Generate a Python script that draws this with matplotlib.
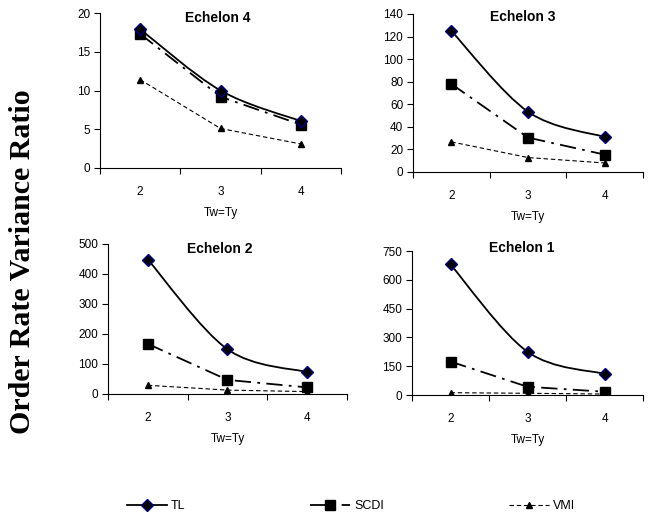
import numpy as np
import matplotlib.pyplot as plt
from matplotlib.path import Path
from matplotlib.patches import PathPatch
from matplotlib.lines import Line2D

# x categories (Tw = Ty)
tw_ty = [2, 3, 4]

# Order rate variance ratio per echelon
ech4_tl = [17.9, 10.0, 6.05]
ech4_scdi = [17.3, 9.2, 5.6]
ech4_vmi = [11.4, 5.1, 3.1]

ech3_tl = [125.0, 53.4, 31.0]
ech3_scdi = [78.0, 30.5, 15.4]
ech3_vmi = [26.7, 12.8, 8.0]

ech2_tl = [448.0, 149.0, 73.0]
ech2_scdi = [167.0, 47.0, 22.0]
ech2_vmi = [29.0, 13.0, 8.0]

ech1_tl = [680.0, 225.0, 110.0]
ech1_scdi = [174.0, 43.0, 17.0]
ech1_vmi = [12.0, 9.0, 5.0]

W, H = 648, 523
plt.rcParams['font.family'] = ['Liberation Sans', 'DejaVu Sans']
fig = plt.figure(figsize=(W / 100, H / 100), dpi=100)


def px_box(left, right, top, bottom):
    return [left / W, 1 - bottom / H, (right - left) / W, (bottom - top) / H]


def smooth_path(x, y):
    # Excel-like smoothed line: cubic Bezier segments through the points
    pts = np.column_stack([x, y]).astype(float)
    n = len(pts)
    verts = [pts[0]]
    codes = [Path.MOVETO]
    for i in range(n - 1):
        p0 = pts[max(i - 1, 0)]
        p1 = pts[i]
        p2 = pts[i + 1]
        p3 = pts[min(i + 2, n - 1)]
        verts += [p1 + (p2 - p0) / 6, p2 - (p3 - p1) / 6, p2]
        codes += [Path.CURVE4] * 3
    return Path(verts, codes)


tl_style = dict(color='black', lw=1.3, ls='-')
scdi_style = dict(color='black', lw=1.3, ls=(0, (9, 3.5, 1.5, 3.5)))
vmi_style = dict(color='black', lw=0.8, ls=(0, (4, 2.5)))
tl_marker = dict(marker='D', ms=6, mfc='black', mec='#000080', mew=1.0)
scdi_marker = dict(marker='s', ms=6.5, mfc='black', mec='black')
vmi_marker = dict(marker='^', ms=4.5, mfc='black', mec='black')

# title, data, y ticks, axes box (px), title position (px)
panels = [
    ('Echelon 4', ech4_tl, ech4_scdi, ech4_vmi, np.arange(0, 21, 5), px_box(100, 341, 13, 168), (218, 18)),
    ('Echelon 3', ech3_tl, ech3_scdi, ech3_vmi, np.arange(0, 141, 20), px_box(413, 643, 14, 172), (523, 17)),
    ('Echelon 2', ech2_tl, ech2_scdi, ech2_vmi, np.arange(0, 501, 100), px_box(108, 347, 244, 394), (220, 249)),
    ('Echelon 1', ech1_tl, ech1_scdi, ech1_vmi, np.arange(0, 751, 150), px_box(412, 643, 251, 395), (522, 248)),
]

for title, tl, scdi, vmi, yticks, box, tpos in panels:
    ax = fig.add_axes(box)
    ax.add_patch(PathPatch(smooth_path(tw_ty, tl), fill=False, **tl_style))
    ax.plot(tw_ty, scdi, **scdi_style)
    ax.plot(tw_ty, vmi, **vmi_style)
    ax.plot(tw_ty, vmi, ls='none', **vmi_marker)
    ax.plot(tw_ty, scdi, ls='none', **scdi_marker)
    ax.plot(tw_ty, tl, ls='none', **tl_marker)

    ax.set_xlim(1.5, 4.5)
    ax.set_ylim(yticks[0], yticks[-1])
    ax.set_yticks(yticks)
    ax.set_xticks(tw_ty)
    ax.set_xticks([1.5, 2.5, 3.5, 4.5], minor=True)
    ax.tick_params(axis='x', which='major', length=0, pad=13, labelsize=8.5)
    ax.tick_params(axis='x', which='minor', length=4, width=0.8, direction='out')
    ax.tick_params(axis='y', length=4, width=0.8, direction='out', labelsize=8.5, pad=3)
    for s in ['top', 'right']:
        ax.spines[s].set_visible(False)
    for s in ['left', 'bottom']:
        ax.spines[s].set_linewidth(0.8)
    ax.patch.set_alpha(0)

    fig.text(tpos[0] / W, 1 - tpos[1] / H, title, ha='center', va='center',
             fontsize=10, fontweight='bold')
    cx = box[0] + box[2] / 2
    fig.text(cx, box[1] - 45 / H, 'Tw=Ty', ha='center', va='center', fontsize=8.5)

fig.text(23 / W, 1 - 262 / H, 'Order Rate Variance Ratio', rotation=90,
         ha='center', va='center', fontsize=21.5, fontweight='bold',
         family=['Liberation Serif', 'DejaVu Serif'])

handles = [
    Line2D([], [], **tl_style, **tl_marker),
    Line2D([], [], **scdi_style, **scdi_marker),
    Line2D([], [], **vmi_style, **vmi_marker),
]
fig.legend(handles, ['TL', 'SCDI', 'VMI'], ncol=3, loc='center',
           bbox_to_anchor=(351 / W, 1 - 506 / H), frameon=False, fontsize=9,
           handlelength=3.2, handletextpad=0.3, columnspacing=10)

fig.savefig('out.png', dpi=100)
